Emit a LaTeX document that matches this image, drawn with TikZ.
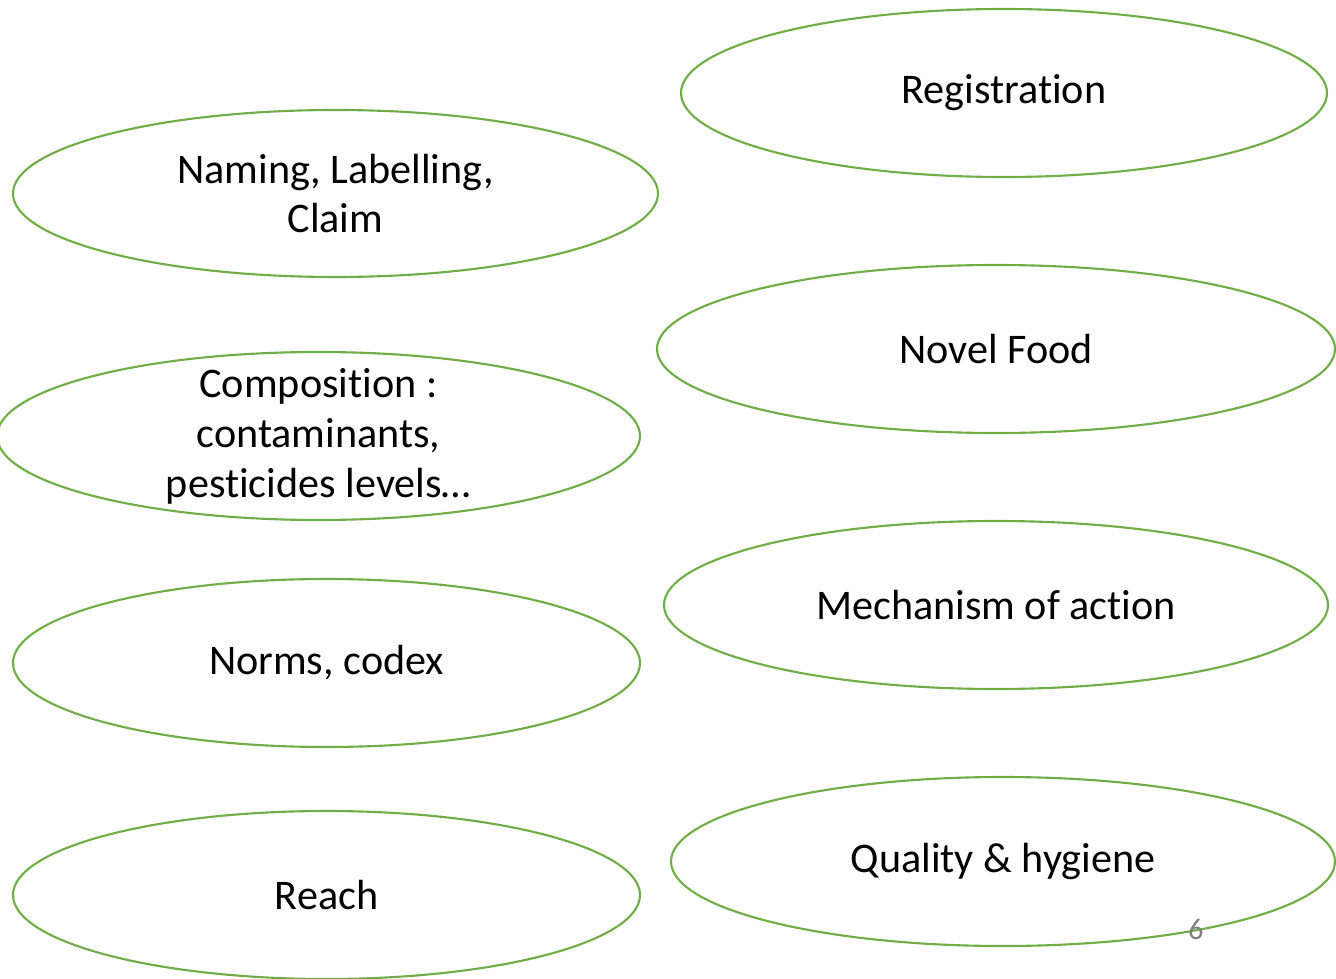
\documentclass[tikz,border=0pt]{standalone}
\usepackage{fontspec}
\setmainfont{Carlito}[RawFeature={-liga;-calt;-dlig}]
\usepackage{xcolor}
\usepackage{tikz}
\usetikzlibrary{shapes.geometric}

\definecolor{ovalgreen}{HTML}{70AD47}
\tikzset{
	oval/.style={draw=ovalgreen, line width=0.6pt, ellipse, inner sep=0pt, minimum height=1.68cm, align=center, font=\fontsize{12}{14.2}\selectfont},
	ovaltext/.style={align=center, inner sep=0pt, font=\fontsize{12}{14.2}\selectfont},
	pagenum/.style={text=gray, font=\fontsize{8.5}{10}\selectfont, inner sep=0pt}
}

\begin{document}
\begin{tikzpicture}
	\useasboundingbox (0,0) rectangle (13.36,-9.79);
	\node[oval, minimum width=6.46cm] (registration) at (10.04,-0.93) {Registration};
	\node[oval, minimum width=6.45cm, minimum height=1.67cm] (naming) at (3.355,-1.935) {Naming, Labelling,\\Claim};
	\node[oval, minimum width=6.78cm] (novel) at (9.96,-3.49) {Novel Food};
	\node[oval, minimum width=6.43cm] (composition) at (3.185,-4.36) {};
	\node[ovaltext] (compositiontext) at (composition.center) {Composition :\\contaminants,\\pesticides levels\ldots};
	\node[oval, minimum width=6.64cm] (mechanism) at (9.96,-6.05) {Mechanism of action};
	\node[oval, minimum width=6.27cm] (norms) at (3.265,-6.63) {Norms, codex};
	\node[oval, minimum width=6.64cm, minimum height=1.69cm] (quality) at (10.03,-8.615) {Quality \& hygiene};
	\node[oval, minimum width=6.27cm] (reach) at (3.265,-8.95) {Reach};
	\node[pagenum] (slidenum) at (11.96,-9.30) {6};
\end{tikzpicture}
\end{document}
